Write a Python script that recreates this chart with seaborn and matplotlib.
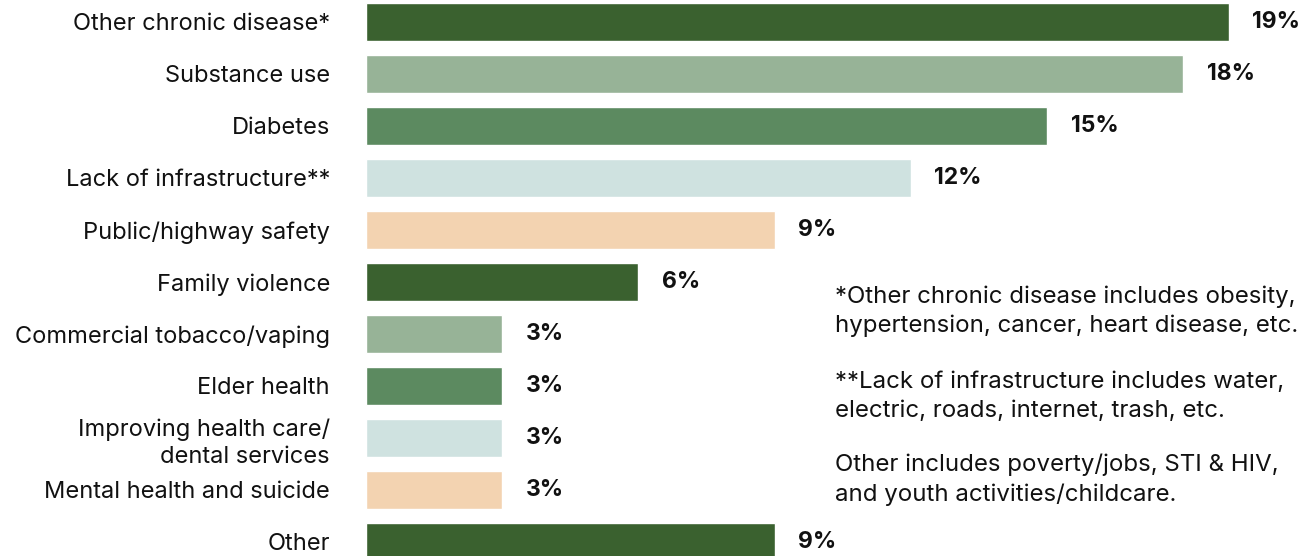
import matplotlib
matplotlib.use("Agg")
import matplotlib.pyplot as plt
import seaborn as sns
import pandas as pd

categories = [
    "Other chronic disease*",
    "Substance use",
    "Diabetes",
    "Lack of infrastructure**",
    "Public/highway safety",
    "Family violence",
    "Commercial tobacco/vaping",
    "Elder health",
    "Improving health care/\ndental services",
    "Mental health and suicide",
    "Other",
]
values = [19, 18, 15, 12, 9, 6, 3, 3, 3, 3, 9]
value_labels = ["19%", "18%", "15%", "12%", "9%", "6%", "3%", "3%", "3%", "3%", "9%"]
bar_colors = ["#3a612f", "#97b397", "#5c8a60", "#cfe2e0", "#f3d3b1",
              "#3a612f", "#97b397", "#5c8a60", "#cfe2e0", "#f3d3b1", "#3a612f"]
footnotes = [
    "*Other chronic disease includes obesity,\nhypertension, cancer, heart disease, etc.",
    "**Lack of infrastructure includes water,\nelectric, roads, internet, trash, etc.",
    "Other includes poverty/jobs, STI & HIV,\nand youth activities/childcare.",
]

sns.set_theme(style="white")
plt.rcParams["font.family"] = ["Inter", "DejaVu Sans"]

df = pd.DataFrame({"category": categories, "value": values})

fig = plt.figure(figsize=(13.1, 5.56), dpi=100)
ax = fig.add_axes([366 / 1310, 0, 908 / 1310, 1])
sns.barplot(data=df, y="category", x="value", hue="category",
            palette=bar_colors, legend=False, width=0.73, ax=ax,
            saturation=1, orient="h")
ax.set_xlim(0, 20)
ax.set_ylim(10.27, -0.423)
ax.set_xlabel("")
ax.set_ylabel("")
ax.set_xticks([])
for s in ax.spines.values():
    s.set_visible(False)
ax.tick_params(axis="y", length=0, pad=26, labelsize=17, colors="#111111")
for t in ax.get_yticklabels():
    t.set_horizontalalignment("right")
    t.set_linespacing(1.3)

for i, (v, lab) in enumerate(zip(values, value_labels)):
    ax.annotate(lab, xy=(v, i), xytext=(17, 0), textcoords="offset points",
                va="center", ha="left", fontsize=16.5, fontweight="bold",
                color="#111111")

tops_px = [285, 371, 454]
for y, txt in zip(tops_px, footnotes):
    fig.text(835 / 1310, 1 - y / 556, txt, ha="left", va="top",
             fontsize=17.3, color="#111111", linespacing=1.39)

fig.savefig("out.png", dpi=100)
